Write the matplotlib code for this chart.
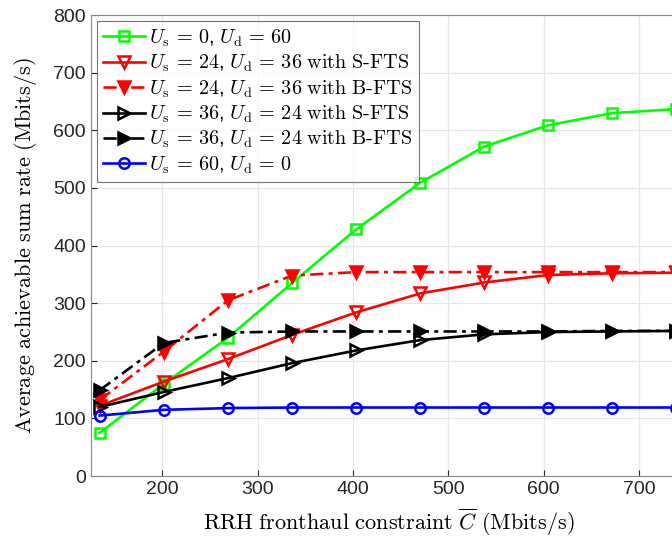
import matplotlib
matplotlib.use("Agg")
import matplotlib.pyplot as plt

plt.rcParams['mathtext.fontset'] = 'cm'
plt.rcParams['font.family'] = ['Liberation Sans', 'DejaVu Sans']

# fronthaul constraint values (Mbits/s)
c_bar = [134.4, 201.6, 268.8, 336.0, 403.2, 470.4, 537.6, 604.8, 672.0, 739.2]

# average achievable sum rate (Mbits/s)
rate_us0 = [75, 160, 240, 335, 428, 509, 572, 609, 630, 637]
rate_us24_s = [122, 164, 203, 245, 284, 317, 336, 349, 352, 353]
rate_us24_b = [132, 216, 305, 348, 354, 354, 354, 354, 354, 354]
rate_us36_s = [120, 146, 170, 196, 218, 236, 246, 250, 251, 252]
rate_us36_b = [149, 231, 249, 251, 251, 251, 251, 251, 252, 252]
rate_us60 = [105, 115, 118, 119, 119, 119, 119, 119, 119, 119]

labels = [
    r'$U_\mathrm{s}\,=\,0$, $U_\mathrm{d}\,=\,60$',
    r'$U_\mathrm{s}\,=\,24$, $U_\mathrm{d}\,=\,36$ $\mathrm{with\ S}\text{-}\mathrm{FTS}$',
    r'$U_\mathrm{s}\,=\,24$, $U_\mathrm{d}\,=\,36$ $\mathrm{with\ B}\text{-}\mathrm{FTS}$',
    r'$U_\mathrm{s}\,=\,36$, $U_\mathrm{d}\,=\,24$ $\mathrm{with\ S}\text{-}\mathrm{FTS}$',
    r'$U_\mathrm{s}\,=\,36$, $U_\mathrm{d}\,=\,24$ $\mathrm{with\ B}\text{-}\mathrm{FTS}$',
    r'$U_\mathrm{s}\,=\,60$, $U_\mathrm{d}\,=\,0$',
]

fig = plt.figure(figsize=(6.72, 5.41), dpi=100)
# axes run past the right edge, like the cropped original
ax = fig.add_axes([0.135, 0.12, 0.887, 0.852])

dashdot = (0, (5, 2, 1.5, 2))
lw = 1.9
ax.plot(c_bar, rate_us0, color=(0, 1, 0), lw=lw, marker='s', ms=6.5,
        mfc='none', mew=1.8, label=labels[0])
ax.plot(c_bar, rate_us24_s, color='red', lw=lw, marker='v', ms=8.5,
        mfc='none', mew=1.8, label=labels[1])
ax.plot(c_bar, rate_us24_b, color='red', lw=lw, ls=dashdot, marker='v', ms=8.5,
        mfc='red', mew=1.8, label=labels[2])
ax.plot(c_bar, rate_us36_s, color='black', lw=lw, marker='>', ms=8.5,
        mfc='none', mew=1.8, label=labels[3])
ax.plot(c_bar, rate_us36_b, color='black', lw=lw, ls=dashdot, marker='>', ms=8.5,
        mfc='black', mew=1.8, label=labels[4])
ax.plot(c_bar, rate_us60, color='blue', lw=lw, marker='o', ms=7.5,
        mfc='none', mew=1.8, label=labels[5])

ax.set_xlim(125, 750)
ax.set_ylim(0, 800)
ax.set_xticks([200, 300, 400, 500, 600, 700])
ax.set_yticks(range(0, 801, 100))
ax.grid(True, color='#e6e6e6', lw=0.9)
ax.set_axisbelow(True)
ax.tick_params(direction='in', labelsize=14, colors='#262626', length=4)
for s in ax.spines.values():
    s.set_color('#888888')

ax.set_xlabel(r'$\mathrm{RRH\ fronthaul\ constraint}\ \overline{C}\ \mathrm{(Mbits/s)}$',
              fontsize=16, labelpad=6)
ax.set_ylabel(r'$\mathrm{Average\ achievable\ sum\ rate\ (Mbits/s)}$',
              fontsize=16, labelpad=10)

leg = ax.legend(loc='upper left', fontsize=14.5, frameon=True, fancybox=False,
                handlelength=2.1, handletextpad=0.2, borderpad=0.3,
                labelspacing=0.2, borderaxespad=0.3)
leg.get_frame().set_edgecolor('#555555')
leg.get_frame().set_linewidth(0.8)

fig.savefig('out.png', dpi=100)
